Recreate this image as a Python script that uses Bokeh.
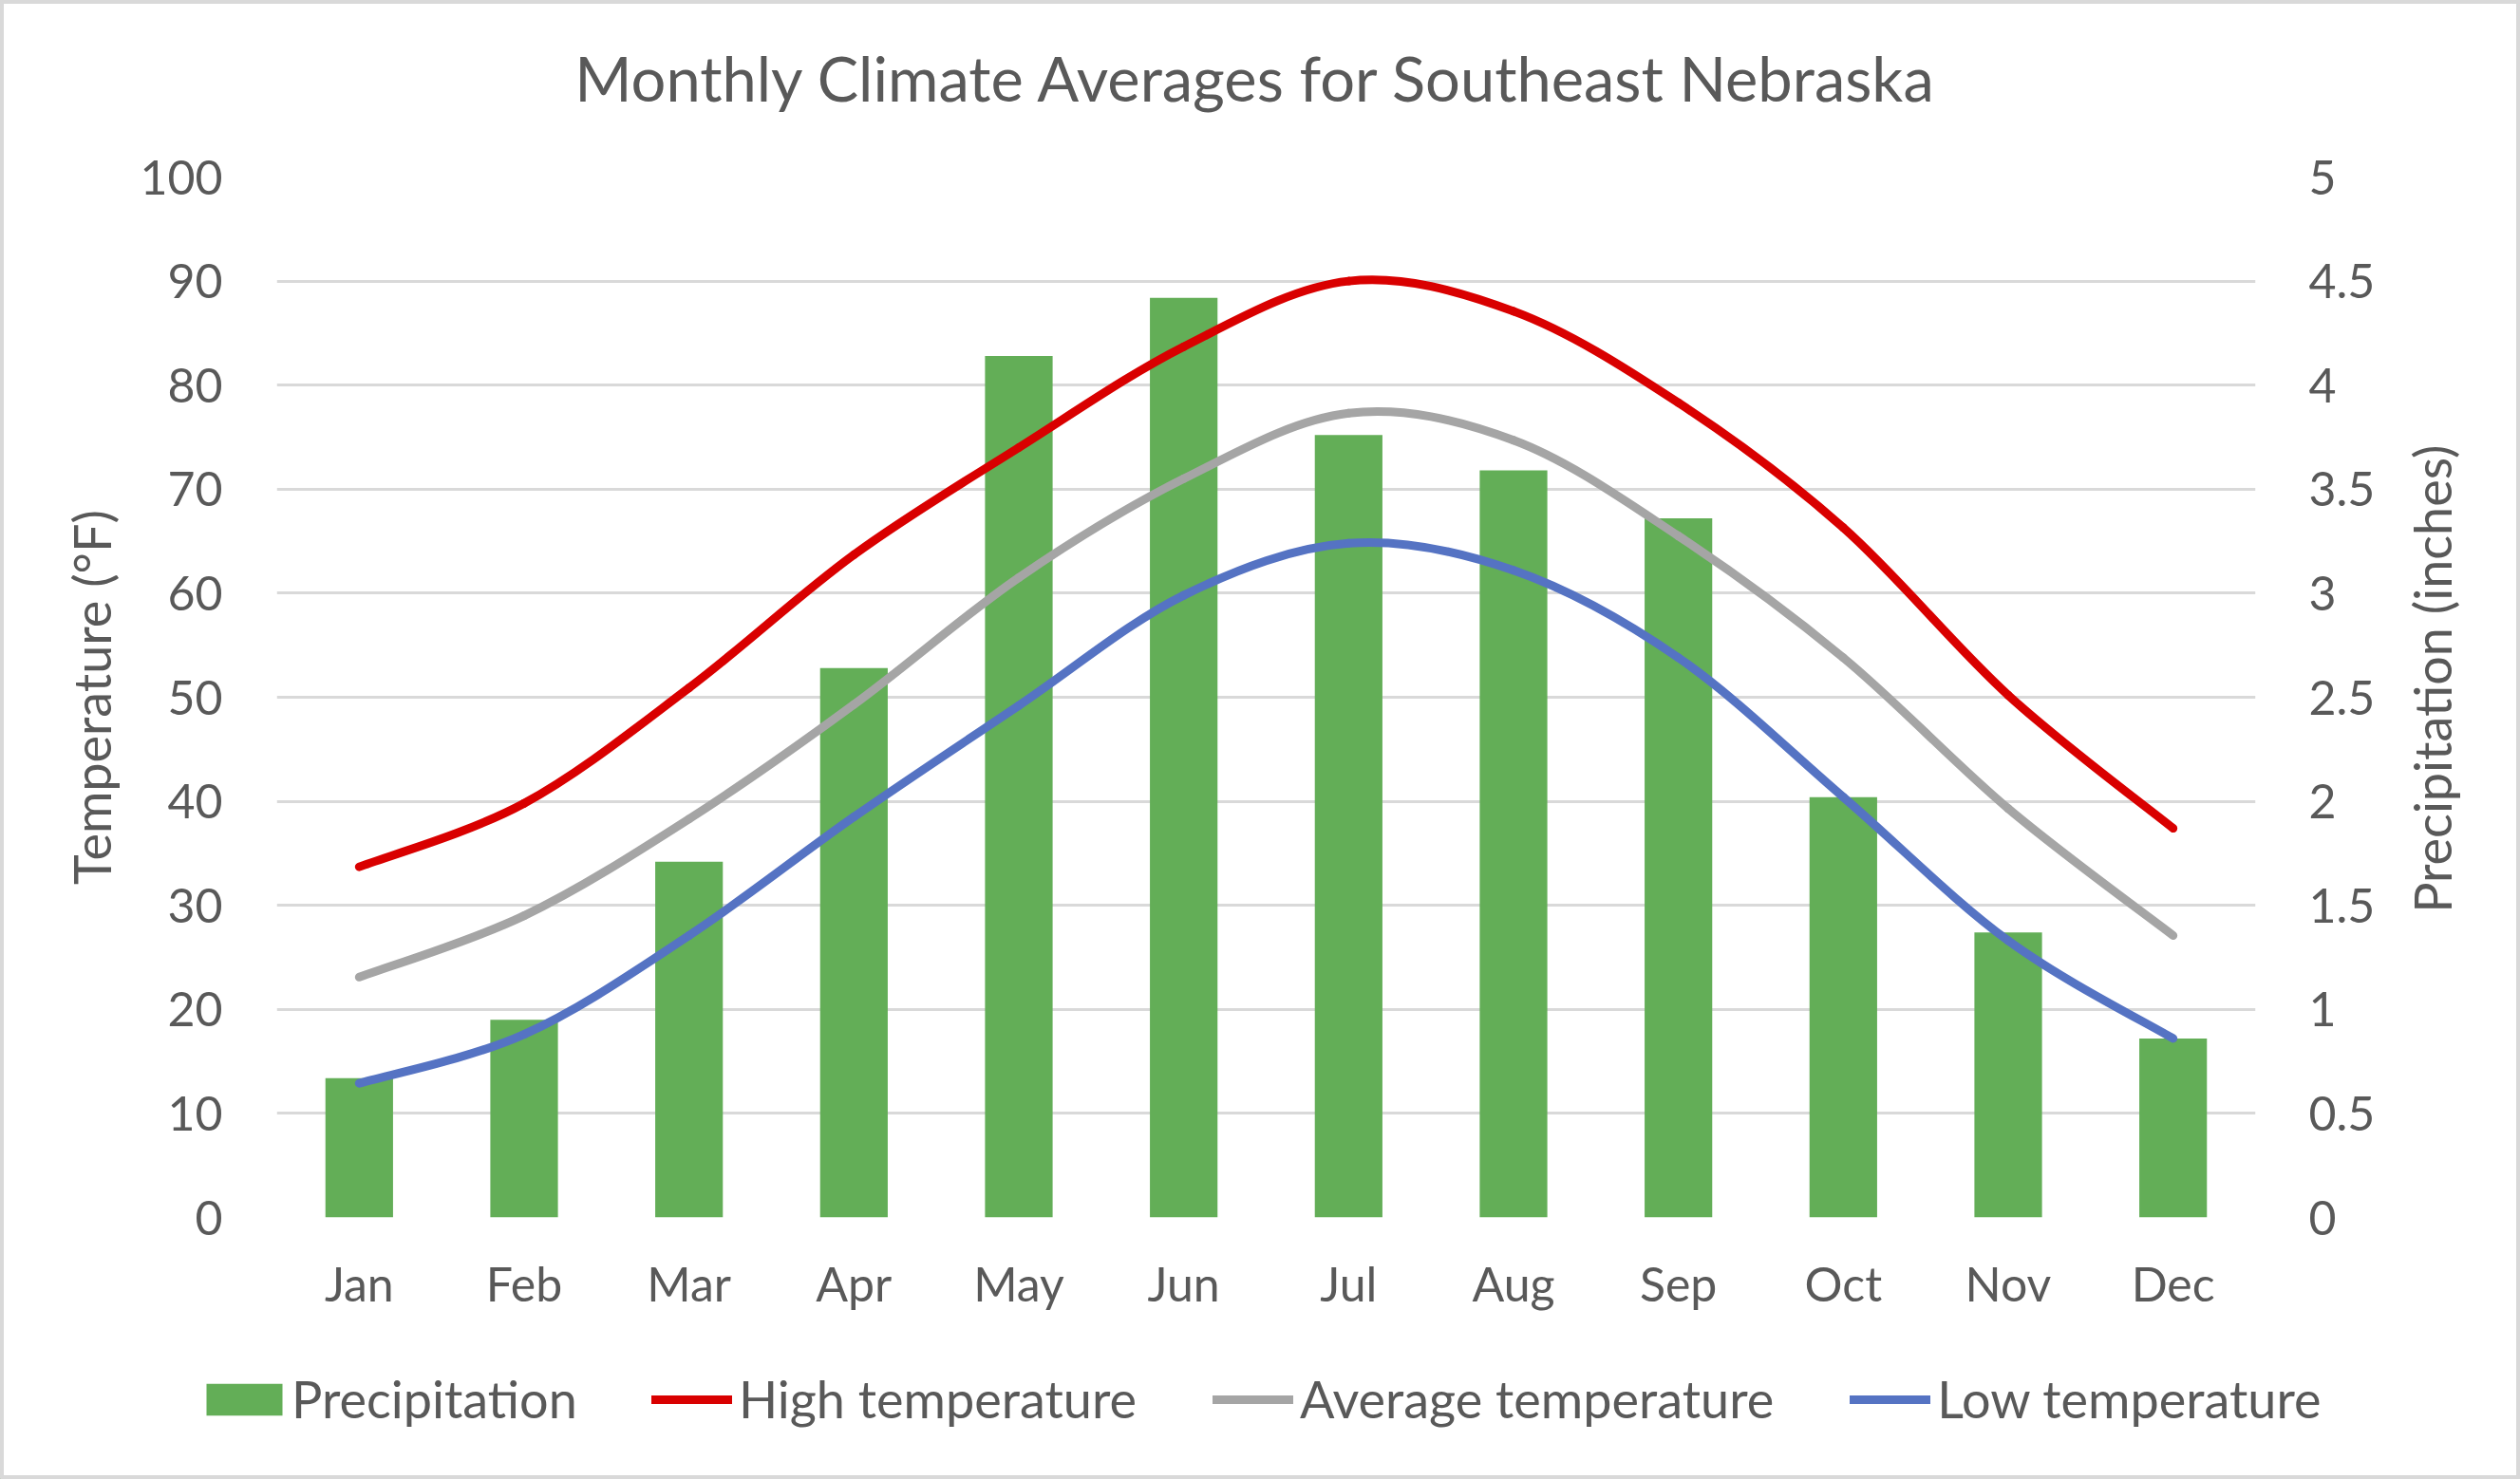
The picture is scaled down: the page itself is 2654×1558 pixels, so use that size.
import numpy as np
from bokeh.plotting import figure
from bokeh.layouts import row, column
from bokeh.models import Range1d, LinearAxis, FixedTicker, Legend, LegendItem
from bokeh.core.properties import value
from bokeh.embed import file_html
from bokeh.resources import INLINE

# ---------------- data ----------------
months = ["Jan", "Feb", "Mar", "Apr", "May", "Jun",
          "Jul", "Aug", "Sep", "Oct", "Nov", "Dec"]
precipitation = [0.67, 0.95, 1.71, 2.64, 4.14, 4.42, 3.76, 3.59, 3.36, 2.02, 1.37, 0.86]
high_temp = [33.7, 39.8, 50.9, 63.7, 74.0, 83.7, 90.0, 87.1, 78.3, 66.3, 50.2, 37.4]
avg_temp = [23.1, 29.0, 38.3, 49.3, 61.5, 71.0, 77.3, 74.7, 65.5, 53.8, 39.3, 27.1]
low_temp = [12.9, 17.6, 27.1, 38.5, 49.2, 59.8, 64.8, 62.2, 53.8, 40.4, 26.6, 17.2]
temp_ticks = [0, 10, 20, 30, 40, 50, 60, 70, 80, 90, 100]
precip_ticks = [0, 0.5, 1, 1.5, 2, 2.5, 3, 3.5, 4, 4.5, 5]
precip_tick_labels = ["0", "0.5", "1", "1.5", "2", "2.5", "3", "3.5", "4", "4.5", "5"]
title_text = "Monthly Climate Averages for Southeast Nebraska"
left_title = "Temperature (°F)"
right_title = "Precipitation (inches)"

FONT = "Lato"
TXT = "#595959"
GRID = "#d9d9d9"
BAR_COLOR = "#63ae57"
series = [("High temperature", high_temp, "#d90000"),
          ("Average temperature", avg_temp, "#a5a5a5"),
          ("Low temperature", low_temp, "#5573c3")]

# ---------------- layout geometry (pixels) ----------------
W, H = 2654, 1558
TOP_H = 130                      # strip holding the chart title
BOT_H = 174                      # strip holding the legend
SIDE_W = 144                     # strip holding the right axis title
MAIN_W = W - SIDE_W
MAIN_H = H - TOP_H - BOT_H
BL, BR, BT, BB = 291, MAIN_W - 2375, 186 - TOP_H, 100


def blank(width, height):
    f = figure(width=width, height=height, output_backend="svg", toolbar_location=None,
               x_range=Range1d(0, width), y_range=Range1d(0, height),
               min_border=0, x_axis_type=None, y_axis_type=None,
               background_fill_color=None, border_fill_color=None)
    f.outline_line_color = None
    f.grid.grid_line_color = None
    return f


# ---------------- title strip ----------------
top = blank(W, TOP_H)
top.text(x=[1323], y=[TOP_H - 81], text=[title_text], text_align="center",
         text_baseline="middle", text_font=value(FONT), text_font_size="65px",
         text_color=TXT)

# ---------------- main chart ----------------
x = np.arange(1, len(months) + 1, dtype=float)

p = figure(width=MAIN_W, height=MAIN_H, output_backend="svg", toolbar_location=None,
           x_range=Range1d(0.5, 12.5), y_range=Range1d(0, 100),
           min_border_left=BL, min_border_right=BR, min_border_top=BT, min_border_bottom=BB,
           background_fill_color=None, border_fill_color=None)
p.outline_line_color = None
p.extra_y_ranges = {"precip": Range1d(0, 5)}

p.xaxis.ticker = FixedTicker(ticks=list(x))
p.xaxis.major_label_overrides = {float(i): m for i, m in zip(x, months)}
p.yaxis.ticker = FixedTicker(ticks=temp_ticks)
p.yaxis.axis_label = left_title

right = LinearAxis(y_range_name="precip", ticker=FixedTicker(ticks=precip_ticks))
right.major_label_overrides = {t: l for t, l in zip(precip_ticks, precip_tick_labels)}
p.add_layout(right, "right")

for ax in [p.xaxis[0], p.yaxis[0], right]:
    ax.axis_line_color = None
    ax.major_tick_line_color = None
    ax.minor_tick_line_color = None
    ax.major_label_text_font = FONT
    ax.major_label_text_font_size = "50px"
    ax.major_label_text_color = TXT
    ax.axis_label_text_font = FONT
    ax.axis_label_text_font_size = "54px"
    ax.axis_label_text_font_style = "normal"
    ax.axis_label_text_color = TXT

p.xaxis.major_label_standoff = 33
p.yaxis[0].major_label_standoff = 51
p.yaxis[0].axis_label_standoff = 15
right.major_label_standoff = 50

p.xgrid.grid_line_color = None
p.ygrid.ticker = FixedTicker(ticks=temp_ticks)
p.ygrid.grid_line_color = GRID
p.ygrid.grid_line_width = 3

p.vbar(x=x, top=precipitation, width=0.41, bottom=0, y_range_name="precip",
       fill_color=BAR_COLOR, line_color=None)


def smooth(ys):
    xs = np.asarray(x)
    ys = np.asarray(ys, dtype=float)
    n = len(xs)
    i = np.arange(n - 1)
    prv = np.maximum(i - 1, 0)
    nxt = np.minimum(i + 2, n - 1)
    cx0 = xs[i] + (xs[i + 1] - xs[prv]) / 6
    cy0 = ys[i] + (ys[i + 1] - ys[prv]) / 6
    cx1 = xs[i + 1] - (xs[nxt] - xs[i]) / 6
    cy1 = ys[i + 1] - (ys[nxt] - ys[i]) / 6
    return dict(x0=xs[i], y0=ys[i], x1=xs[i + 1], y1=ys[i + 1],
                cx0=cx0, cy0=cy0, cx1=cx1, cy1=cy1)


for name, ys, col in series:
    p.bezier(**smooth(ys), line_color=col, line_width=9, line_cap="round")

# ---------------- right strip: secondary axis title (reads bottom-to-top) ----------------
side = blank(SIDE_W, MAIN_H)
side.text(x=[2561 - MAIN_W], y=[MAIN_H - (735 - TOP_H)], text=[right_title], angle=np.pi / 2,
          text_align="center", text_baseline="middle",
          text_font=value(FONT), text_font_size="54px", text_color=TXT)

# ---------------- legend strip ----------------
# legend keys: renderers styled like the series, with a single point kept outside the view
bot = blank(W, BOT_H)
OFF = -1000
key_bar = bot.vbar(x=[OFF], top=[1], bottom=[0], width=1, fill_color=BAR_COLOR, line_color=None)
line_items = []
for name, ys, col in series:
    r = bot.line(x=[OFF, OFF + 1], y=[0, 0], line_color=col, line_width=9, line_cap="round")
    line_items.append(LegendItem(label=name, renderers=[r]))

common = dict(orientation="horizontal", label_text_font=FONT, label_text_font_size="54px",
              label_text_color=TXT, border_line_color=None, background_fill_alpha=0,
              padding=0, margin=0)
legend_bar = Legend(items=[LegendItem(label="Precipitation", renderers=[key_bar])],
                    location=(207, 52), glyph_width=100, glyph_height=42, label_standoff=0,
                    **common)
legend_lines = Legend(items=line_items, location=(686, 52), glyph_width=85, glyph_height=34,
                      label_standoff=7, spacing=80, **common)
bot.add_layout(legend_bar)
bot.add_layout(legend_lines)

layout = column(top, row(p, side, spacing=0), bot, spacing=0)
layout.styles = {"outline": "4px solid #d9d9d9", "outline-offset": "-4px",
                 "box-shadow": "inset 0 0 0 4px #d9d9d9", "background-color": "white"}

open("out.html", "w").write(file_html(layout, INLINE))
